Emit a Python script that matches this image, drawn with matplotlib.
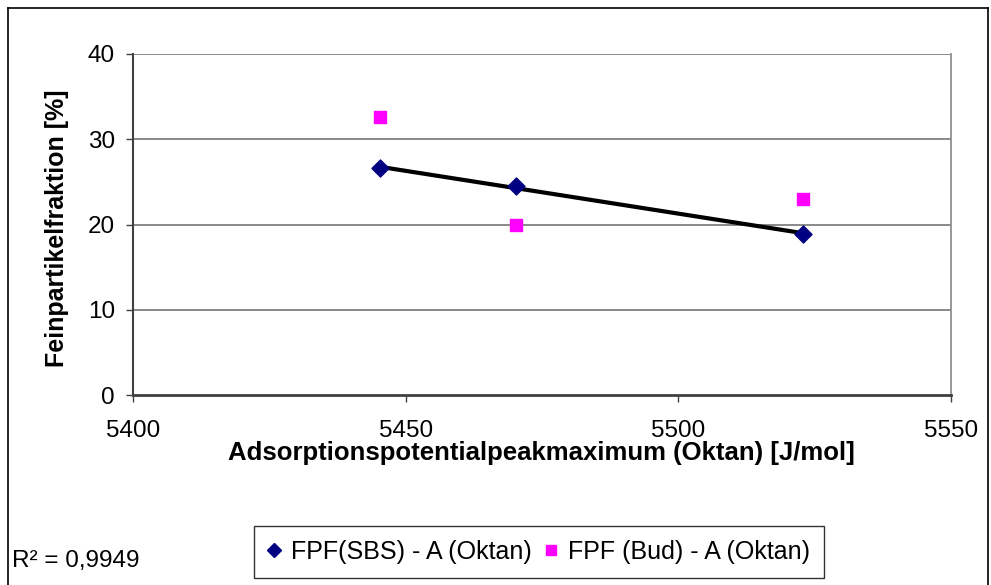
import numpy as np
import matplotlib
matplotlib.use("Agg")
import matplotlib.pyplot as plt
from matplotlib.lines import Line2D

plt.rcParams['font.family'] = ['Liberation Sans', 'DejaVu Sans']

sbs_x = [5445.3, 5470.3, 5522.9]
sbs_y = [26.6, 24.5, 18.9]
bud_x = [5445.3, 5470.3, 5522.9]
bud_y = [32.6, 20.0, 23.0]
x_ticks = [5400, 5450, 5500, 5550]
y_ticks = [0, 10, 20, 30, 40]
xlabel = "Adsorptionspotentialpeakmaximum (Oktan) [J/mol]"
ylabel = "Feinpartikelfraktion [%]"
legend_labels = ["FPF(SBS) - A (Oktan)", "FPF (Bud) - A (Oktan)"]
r2_text = "R² = 0,9949"

W, H = 991, 585
fig = plt.figure(figsize=(W/100, H/100), dpi=100)
ax = fig.add_axes([133/W, 1-395/H, (951-133)/W, (395-54)/H])

ax.set_xlim(5400, 5550)
ax.set_ylim(0, 40)
ax.set_xticks(x_ticks)
ax.set_yticks(y_ticks)
ax.tick_params(direction='out', length=5, width=1, color='#404040', labelsize=17.5)
ax.tick_params(axis='x', pad=13)
ax.tick_params(axis='y', pad=8)

for y in y_ticks[1:]:
    ax.axhline(y, color='#808080', lw=1.3, zorder=1)

ax.spines['top'].set_visible(False)
ax.spines['right'].set_color('#909090')
ax.spines['right'].set_linewidth(1.3)
ax.spines['left'].set_color('#404040')
ax.spines['bottom'].set_color('#404040')
ax.spines['left'].set_linewidth(1.5)
ax.spines['bottom'].set_linewidth(2)

# trendline (linear fit)
coef = np.polyfit(sbs_x, sbs_y, 1)
tx = np.array([min(sbs_x), max(sbs_x)])
ax.plot(tx, np.polyval(coef, tx), color='black', lw=3, zorder=3)

ax.scatter(sbs_x, sbs_y, marker='D', s=75, color='#000080', zorder=4)
ax.scatter(bud_x, bud_y, marker='s', s=80, color='#FF00FF', zorder=4)

fig.text(541/W, 1-453/H, xlabel, ha='center', va='center', fontsize=18.5, fontweight='bold')
fig.text(57/W, 1-228/H, ylabel, ha='center', va='center', rotation=90, fontsize=18, fontweight='bold')
fig.text(12/W, 1-561/H, r2_text, ha='left', va='center', fontsize=17.5)

handles = [Line2D([], [], ls='none', marker='D', color='#000080', markersize=7),
           Line2D([], [], ls='none', marker='s', color='#FF00FF', markersize=7)]
leg = fig.legend(handles, legend_labels, loc='center', bbox_to_anchor=(539/W, 1-552/H),
                 ncol=2, frameon=True, fancybox=False, edgecolor='black', fontsize=18,
                 handlelength=0.5, handletextpad=0.45, columnspacing=0.5, borderpad=0.55)
leg.get_frame().set_linewidth(1)

# outer chart frame
fig.add_artist(Line2D([8/W, 8/W], [0, 1-8/H], color='black', lw=1.2, transform=fig.transFigure))
fig.add_artist(Line2D([8/W, 988/W], [1-8/H, 1-8/H], color='black', lw=1.2, transform=fig.transFigure))
fig.add_artist(Line2D([988/W, 988/W], [0, 1-8/H], color='black', lw=1.2, transform=fig.transFigure))

fig.savefig("out.png", dpi=100)
